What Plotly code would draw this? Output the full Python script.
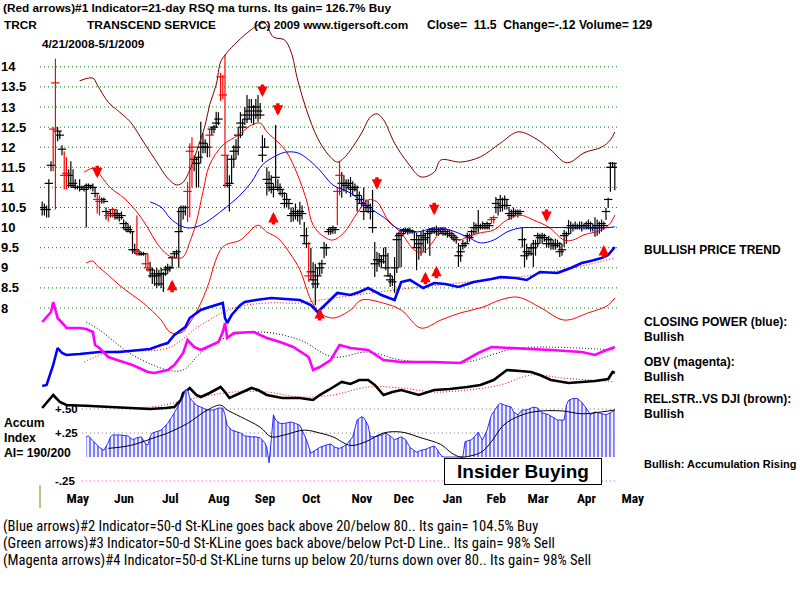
import plotly.graph_objects as go

# ---------------- data ----------------
HIGH = [10.65,10.60,10.55,11.20,11.65,12.50,14.20,12.50,12.40,12.05,
        11.90,11.75,11.45,11.65,11.45,11.20,11.05,11.20,11.05,11.05,
        11.10,11.10,11.05,11.10,11.00,10.85,10.80,10.75,10.75,10.50,
        10.40,10.45,10.50,10.45,10.45,10.35,10.40,10.20,10.15,10.10,
        10.05,9.90,9.60,10.30,9.45,9.40,9.40,9.35,9.35,9.15,
        9.00,8.95,9.00,8.95,9.00,8.90,9.05,9.10,9.05,9.30,
        9.40,9.45,10.50,10.55,10.55,10.55,11.13,12.10,12.25,11.80,
        11.75,11.90,12.63,12.35,12.20,12.10,12.43,12.50,12.55,12.88,
        12.87,13.85,13.80,14.30,11.80,11.30,11.80,12.05,12.20,12.50,
        12.87,12.70,13.00,13.30,13.20,13.20,13.05,13.20,13.30,13.10,
        12.30,12.23,11.50,11.40,11.30,11.10,12.55,11.20,11.10,10.95,
        10.88,10.85,10.70,10.50,10.50,10.60,10.45,10.64,10.55,10.14,
        10.00,9.64,9.50,9.14,9.10,9.00,9.14,9.20,9.64,9.60,
        9.99,10.00,10.05,10.00,11.00,11.63,11.38,11.30,11.20,11.20,
        11.26,11.15,11.10,11.05,10.90,10.80,11.00,10.70,10.68,10.60,
        10.94,9.64,9.40,9.37,9.30,9.50,9.52,9.37,8.87,8.80,
        9.27,9.87,9.90,9.94,9.99,10.00,9.99,10.00,9.95,9.90,
        9.87,9.80,9.90,9.95,9.87,9.95,9.99,10.00,10.01,10.05,
        10.00,10.00,9.95,10.00,9.95,9.95,9.90,9.85,9.80,9.62,
        9.55,9.69,9.65,9.87,9.85,9.95,10.14,10.10,10.44,10.10,
        10.15,10.10,10.15,10.10,10.25,10.30,10.76,10.70,10.81,10.75,
        10.80,10.70,10.51,10.45,10.50,10.45,10.45,10.45,10.01,9.74,
        9.60,9.50,9.60,9.69,9.70,9.87,9.85,9.87,9.85,9.75,
        9.80,9.75,9.70,9.72,9.70,9.64,9.60,9.94,9.90,10.19,
        10.15,10.10,10.15,10.10,10.15,10.15,10.10,10.15,10.20,10.15,
        10.10,10.26,10.20,10.15,10.20,10.15,10.49,10.74,11.63,11.63,
        11.60]
LOW = [10.30,10.30,10.25,10.25,11.40,11.40,10.45,12.15,12.20,11.80,
       10.95,10.95,11.00,11.00,11.00,10.95,10.95,10.90,10.95,10.90,
       10.00,10.95,10.95,10.90,10.75,10.35,10.30,10.60,10.60,10.20,
       10.15,10.25,10.25,10.20,10.20,10.15,10.20,9.95,9.90,9.90,
       9.85,9.35,9.35,9.30,9.30,9.30,9.30,9.00,8.90,8.75,
       8.60,8.55,8.50,8.55,8.50,8.40,8.80,8.85,8.90,9.00,
       9.25,9.25,9.00,9.90,10.20,10.30,10.14,10.26,11.00,11.40,
       11.00,11.00,11.60,11.85,11.85,11.75,11.75,12.30,12.35,12.48,
       12.55,13.15,13.20,11.00,11.00,10.40,11.10,11.48,11.70,11.80,
       12.23,12.30,12.55,12.60,12.70,12.60,12.55,12.70,12.63,12.70,
       11.63,11.98,10.80,10.90,10.85,10.75,11.00,10.90,10.80,10.75,
       10.48,10.50,10.45,10.14,10.15,10.20,10.15,10.07,10.20,9.60,
       9.49,8.65,8.70,8.50,8.07,8.50,8.82,8.85,9.24,9.30,
       9.82,9.82,9.85,9.85,10.06,10.80,10.74,10.90,10.85,10.95,
       10.76,10.80,10.90,10.40,10.60,10.50,10.19,10.40,10.36,10.20,
       9.87,8.77,8.90,9.02,9.00,9.10,8.94,8.77,8.52,8.55,
       8.37,8.87,9.00,9.02,9.82,9.85,9.82,9.85,9.85,9.50,
       8.94,9.20,9.30,9.40,9.37,9.60,9.30,9.85,9.85,9.80,
       9.80,9.85,9.80,9.80,9.75,9.77,9.70,9.65,9.60,9.02,
       9.15,9.45,9.50,9.62,9.65,9.75,9.82,9.85,9.87,9.95,
       9.95,9.95,9.95,9.95,10.10,10.10,10.36,10.30,10.39,10.40,
       10.45,10.45,10.19,10.20,10.25,10.30,10.25,10.30,9.50,9.02,
       9.20,9.30,9.30,9.02,9.30,9.52,9.60,9.60,9.65,9.50,
       9.50,9.45,9.45,9.45,9.50,9.27,9.30,9.52,9.60,9.82,
       9.85,9.90,9.95,9.95,9.95,9.90,9.95,9.95,9.95,9.90,
       9.90,9.77,9.80,9.85,9.90,9.95,10.19,10.49,10.89,11.50,
       10.93]
CLOSE = [10.50,10.45,10.45,11.10,11.55,12.45,13.60,12.40,12.30,11.95,
         11.30,11.35,11.30,11.05,11.10,11.00,11.00,11.00,11.00,10.95,
         11.00,11.05,11.00,11.00,10.85,10.70,10.65,10.70,10.65,10.40,
         10.30,10.35,10.45,10.30,10.35,10.25,10.30,10.10,10.00,9.95,
         9.90,9.45,9.45,9.40,9.35,9.35,9.35,9.10,9.00,8.95,
         8.80,8.85,8.80,8.60,8.85,8.85,8.95,9.00,9.00,9.25,
         9.35,9.40,9.90,10.40,10.50,10.50,10.90,11.90,12.00,11.70,
         11.60,11.75,12.00,12.10,12.00,12.00,12.30,12.45,12.50,12.60,
         12.70,13.75,13.30,11.80,11.05,11.10,11.70,11.90,12.00,12.30,
         12.60,12.50,12.80,12.70,12.90,13.00,12.80,13.00,12.90,12.80,
         11.80,12.00,11.20,11.10,11.00,10.95,11.25,11.00,10.95,10.85,
         10.60,10.70,10.60,10.30,10.35,10.40,10.30,10.40,10.35,9.80,
         9.60,8.80,8.90,8.70,8.60,8.80,9.00,9.10,9.50,9.50,
         9.90,9.95,10.00,9.95,10.90,11.30,11.10,11.10,11.05,11.10,
         11.00,10.95,11.00,10.80,10.70,10.60,10.40,10.55,10.50,10.40,
         10.00,9.10,9.20,9.20,9.15,9.30,9.00,8.80,8.70,8.65,
         9.00,9.70,9.80,9.85,9.92,9.95,9.90,9.92,9.90,9.70,
         9.50,9.60,9.80,9.70,9.75,9.85,9.90,9.95,9.90,9.95,
         9.90,9.95,9.85,9.90,9.85,9.85,9.80,9.75,9.70,9.30,
         9.40,9.55,9.60,9.80,9.75,9.90,10.00,10.00,10.05,10.05,
         10.05,10.00,10.10,10.05,10.20,10.25,10.60,10.50,10.70,10.55,
         10.70,10.55,10.35,10.30,10.40,10.40,10.35,10.40,9.70,9.30,
         9.40,9.35,9.50,9.50,9.60,9.80,9.75,9.80,9.75,9.60,
         9.70,9.60,9.60,9.55,9.60,9.40,9.45,9.80,9.85,10.00,
         10.05,10.00,10.05,10.00,10.05,10.05,10.05,10.05,10.10,10.00,
         10.00,10.00,10.05,10.00,10.10,10.05,10.40,10.70,11.50,11.60,
         11.50]
RED_BARS = [5, 6, 10, 11, 25, 26, 30, 32, 43, 47, 48, 66, 67, 68, 76,
            81, 82, 83, 121, 134, 135, 204, 205]

MONTH_IDX = [8, 29, 50, 72, 93, 114, 137, 156, 178, 198, 217, 239, 260]
MONTH_LBL = ["May", "Jun", "Jul", "Aug", "Sep", "Oct", "Nov", "Dec",
             "Jan", "Feb", "Mar", "Apr", "May"]
PRICE_TICKS = [8, 8.5, 9, 9.5, 10, 10.5, 11, 11.5, 12, 12.5, 13, 13.5, 14]

UPPER_IDX = [17,23,25,30,35,40,46,52,57,61,64,67,70,74,76,79,81,83,87,93,98,101,105,110,
             113,116,120,125,130,134,137,140,145,149,152,155,160,166,172,178,181,190,199,
             208,216,223,231,237,240,246,254,258,260]
UPPER_VAL = [13.65,13.72,13.55,13.12,12.88,12.63,12.13,11.63,11.23,11.06,11.13,11.43,11.88,
             12.55,13.05,13.55,14.12,14.29,14.54,14.84,15.04,15.09,14.74,14.67,14.37,13.67,
             12.93,12.23,11.81,11.63,11.73,11.93,12.35,12.75,12.83,12.68,12.10,11.61,11.26,
             11.38,11.68,11.63,11.76,12.10,12.38,12.25,11.93,11.63,11.63,11.86,12.00,12.18,12.38]
MA21_IDX = [19,24,27,31,37,43,48,52,57,61,64,67,70,73,76,82,89,95,99,102,107,111,116,120,
            123,128,132,137,143,148,152,157,163,169,173,178,182,189,193,199,205,211,217,
            223,230,237,241,246,254,258,260]
MA21_VAL = [11.38,11.48,11.26,10.99,10.74,10.39,9.99,9.62,9.32,9.24,9.27,9.64,10.14,10.89,
            11.56,12.05,12.30,12.55,12.60,12.38,12.13,11.88,11.31,10.69,10.06,9.77,9.69,9.87,
            10.36,10.69,10.64,10.19,9.87,9.44,9.39,9.69,10.01,9.69,9.77,9.87,9.94,10.19,
            10.31,10.19,10.01,9.69,9.69,9.82,9.94,10.11,10.31]
LOWER_IDX = [20,23,25,30,35,41,46,54,58,63,67,72,75,82,90,98,102,107,113,117,122,126,132,
             140,145,155,163,172,181,190,200,208,216,226,237,248,257,260]
LOWER_VAL = [9.12,9.17,9.05,8.82,8.57,8.32,8.12,7.70,7.40,7.38,7.63,8.12,8.52,9.52,9.69,
             10.06,9.89,9.74,9.32,8.95,8.20,7.88,7.75,7.95,8.20,8.12,7.95,7.50,7.70,7.88,
             8.02,8.20,8.27,8.02,7.70,7.88,8.07,8.25]
MA50_IDX = [49,54,58,63,67,72,76,82,89,95,100,107,111,116,120,126,132,140,148,155,161,170,
            178,185,193,199,205,211,217,226,239,248,257,260]
MA50_VAL = [10.64,10.51,10.24,10.04,9.99,10.06,10.19,10.44,10.76,11.13,11.56,11.81,11.88,
            11.86,11.73,11.43,11.06,10.86,10.51,10.26,9.99,9.89,9.99,9.94,9.77,9.62,9.69,
            9.89,9.99,10.00,10.00,9.99,10.00,10.02]

CP_IDX = [0,2,5,7,9,11,17,26,35,45,49,54,57,60,63,65,67,72,76,80,82,83,84,86,90,92,97,
          104,113,117,122,125,127,130,134,140,144,148,154,160,163,167,173,178,183,189,196,
          204,208,215,220,226,234,240,245,249,254,257,260]
CP_VAL = [14,15,35,52,47,45,46,48,48,50,51,55,57,65,70,73,82,90,93,96,97,82,77,85,95,98,
          100,102,101,100,95,88,92,98,107,105,108,112,105,100,118,120,112,117,116,113,118,
          121,123,122,120,128,127,132,137,139,142,145,153]
CPMA_IDX = [19,31,57,72,87,102,117,126,160,193,223,247,260]
CPMA_VAL = [38,48,52,75,92,97,97,100,110,118,125,135,142]

OBV_IDX = [0,4,5,7,10,11,17,20,23,24,26,30,34,41,48,51,57,60,64,66,69,72,75,80,82,83,84,
           87,96,102,108,114,121,123,126,131,135,140,148,155,163,177,190,198,204,216,231,
           245,251,254,260]
OBV_VAL = [58,68,78,62,55,52,52,51,48,35,32,23,20,15,8,7,10,15,27,40,33,30,33,38,48,57,42,
           47,48,42,38,33,23,10,13,20,35,32,30,20,18,18,17,27,33,32,30,28,25,28,33]
OBVMA_IDX = [20,26,41,57,64,72,84,99,117,132,148,163,193,204,216,260]
OBVMA_VAL = [58,50,25,10,10,27,43,48,40,23,28,20,18,25,32,30]

RS_IDX = [0,2,5,8,11,22,31,41,49,56,60,63,64,66,67,70,72,76,81,83,85,90,95,98,102,109,117,
          123,126,130,136,140,144,148,151,155,159,163,171,178,185,193,199,205,208,211,217,
          222,226,231,239,245,251,257,259,260]
RS_VAL = [12,17,25,18,15,14,13,12,11,12,13,20,27,30,32,25,23,27,33,28,22,27,32,30,25,22,22,
          20,25,30,38,36,40,40,35,25,28,30,25,30,31,33,35,40,45,50,49,48,45,40,37,38,39,41,
          48,47]
RSMA_IDX = [20,49,72,87,102,117,132,148,163,178,193,208,222,236,249,260]
RSMA_VAL = [15,13,23,28,28,23,25,33,32,28,30,35,45,42,40,38]

AI_IDX = [20,21,23,25,26,28,30,31,32,35,39,40,41,43,45,47,48,49,50,54,57,60,62,64,65,66,67,
          69,70,72,75,78,80,82,83,84,86,90,92,95,97,99,101,102,103,104,105,106,108,110,113,
          115,117,120,122,124,126,129,131,133,135,138,140,141,143,145,146,148,149,151,154,
          156,158,160,163,165,167,170,172,174,176,178,179,181,182,185,191,192,195,197,198,
          199,200,202,204,205,207,208,210,213,214,216,218,220,223,225,227,230,232,234,237,
          238,239,241,243,245,247,249,251,254,256,258,260]
AI_VAL = [0.21,0.22,0.17,0.125,0.10,0.07,0.15,0.21,0.23,0.23,0.22,0.20,0.18,0.20,0.21,0.135,
          0.125,0.21,0.25,0.28,0.35,0.46,0.54,0.625,0.70,0.70,0.615,0.56,0.54,0.52,0.49,0.49,
          0.51,0.51,0.44,0.33,0.28,0.25,0.22,0.21,0.21,0.20,0.15,0.10,-0.06,0.18,0.44,0.385,
          0.35,0.35,0.365,0.35,0.33,0.18,0.04,0.07,0.10,0.125,0.135,0.10,0.09,0.125,0.18,
          0.21,0.385,0.42,0.41,0.33,0.21,0.21,0.23,0.25,0.22,0.18,0.21,0.18,0.10,0.05,0.07,
          0.08,0.10,0.115,0.09,0.02,0.0,0.0,0.0,0.16,0.18,0.23,0.26,0.21,0.18,0.28,0.44,0.47,
          0.54,0.56,0.54,0.52,0.47,0.44,0.49,0.49,0.52,0.51,0.46,0.44,0.41,0.385,0.385,0.54,
          0.59,0.61,0.61,0.57,0.51,0.44,0.47,0.45,0.44,0.46,0.49]
AIMA_IDX = [30,40,52,57,66,75,81,84,90,99,104,110,119,126,132,140,147,155,163,172,181,186,
            190,196,200,204,209,214,223,236,245,254,260]
AIMA_VAL = [0.09,0.12,0.21,0.25,0.35,0.49,0.54,0.49,0.42,0.31,0.21,0.23,0.28,0.25,0.21,0.12,
            0.16,0.25,0.26,0.20,0.13,0.04,0.0,0.02,0.06,0.16,0.32,0.40,0.47,0.48,0.45,0.47,0.49]
AI_TICKS = [0.5, 0.25, -0.25]
AI_TICK_TEXT = ["+.50", "+.25", "-.25"]

DOWN_IDX = [25, 100, 107, 152, 178, 229]
DOWN_TIP = [11.23, 13.25, 12.78, 10.94, 10.31, 10.14]
UP_IDX = [59, 105, 126, 174, 179, 255]
UP_TIP = [8.70, 10.39, 8.00, 8.90, 9.05, 9.57]

# ---------------- figure ----------------
SANS = "Liberation Sans, Arial, sans-serif"
NARROW = "Liberation Sans Narrow, Arial Narrow, Roboto Condensed, Liberation Sans, sans-serif"
BOLD = dict(family=SANS, color="black", weight="bold")

fig = go.Figure()


def bar_lines(idxs):
    xs, ys = [], []
    for i in idxs:
        xs += [i, i, None]
        ys += [LOW[i], HIGH[i], None]
    return xs, ys


black_idx = [i for i in range(len(CLOSE)) if i not in RED_BARS]
for idxs, col in ((black_idx, "black"), (RED_BARS, "#ff0000")):
    xs, ys = bar_lines(idxs)
    fig.add_trace(go.Scatter(x=xs, y=ys, mode="lines", line=dict(color=col, width=1.2),
                             yaxis="y", hoverinfo="skip"))
    fig.add_trace(go.Scatter(x=idxs, y=[CLOSE[i] for i in idxs], mode="markers",
                             marker=dict(symbol="line-ew", size=6,
                                         line=dict(color=col, width=1.2)),
                             yaxis="y", hoverinfo="skip"))

# bands and moving averages
fig.add_trace(go.Scatter(x=UPPER_IDX, y=UPPER_VAL, mode="lines",
                         line=dict(color="#800000", width=1, shape="spline"), yaxis="y"))
fig.add_trace(go.Scatter(x=MA21_IDX, y=MA21_VAL, mode="lines",
                         line=dict(color="#ff0000", width=1, shape="spline"), yaxis="y"))
fig.add_trace(go.Scatter(x=LOWER_IDX, y=LOWER_VAL, mode="lines",
                         line=dict(color="#ff0000", width=1, shape="spline"), yaxis="y"))
fig.add_trace(go.Scatter(x=MA50_IDX, y=MA50_VAL, mode="lines",
                         line=dict(color="#0000ff", width=1, shape="spline"), yaxis="y"))

DOTS = "1px,2px"
# closing power
fig.add_trace(go.Scatter(x=CPMA_IDX, y=CPMA_VAL, mode="lines",
                         line=dict(color="#ff0000", width=1, dash=DOTS, shape="spline"),
                         yaxis="y2"))
fig.add_trace(go.Scatter(x=CP_IDX, y=CP_VAL, mode="lines",
                         line=dict(color="#0000ff", width=2.6), yaxis="y2"))
# OBV
fig.add_trace(go.Scatter(x=OBVMA_IDX, y=OBVMA_VAL, mode="lines",
                         line=dict(color="black", width=1, dash=DOTS, shape="spline"),
                         yaxis="y3"))
fig.add_trace(go.Scatter(x=OBV_IDX, y=OBV_VAL, mode="lines",
                         line=dict(color="#ff00ff", width=2.6), yaxis="y3"))
# relative strength
fig.add_trace(go.Scatter(x=RSMA_IDX, y=RSMA_VAL, mode="lines",
                         line=dict(color="#ff0000", width=1, dash=DOTS, shape="spline"),
                         yaxis="y4"))
fig.add_trace(go.Scatter(x=RS_IDX, y=RS_VAL, mode="lines",
                         line=dict(color="black", width=2.6), yaxis="y4"))
# accumulation index
fig.add_trace(go.Scatter(x=AI_IDX, y=AI_VAL, mode="lines", fill="tozeroy",
                         line=dict(color="#0000ff", width=0.8),
                         fillcolor="white",
                         fillpattern=dict(shape="|", fgcolor="#0000ff", bgcolor="white",
                                          size=4, solidity=0.55),
                         yaxis="y5"))
fig.add_trace(go.Scatter(x=AIMA_IDX, y=AIMA_VAL, mode="lines",
                         line=dict(color="black", width=1, shape="spline"), yaxis="y5"))

shapes = []
for p in PRICE_TICKS:
    shapes.append(dict(type="line", xref="x", yref="y", x0=-1, x1=261, y0=p, y1=p,
                       line=dict(color="#008000", width=1, dash="1px,3px"), layer="below"))
for v, col in zip(AI_TICKS, ["#707070", "#707070", "#d040d0"]):
    shapes.append(dict(type="line", xref="x", yref="y5", x0=18, x1=261, y0=v, y1=v,
                       line=dict(color=col, width=1, dash="1px,3px"), layer="below"))
shapes.append(dict(type="line", xref="paper", yref="paper", x0=40 / 800, x1=40 / 800,
                   y0=1 - 485 / 600, y1=1 - 508 / 600, line=dict(color="#808000", width=1)))

ann = []
for i, p in zip(DOWN_IDX, DOWN_TIP):
    ann.append(dict(x=i, y=p, xref="x", yref="y", text="", showarrow=True, arrowhead=2,
                    arrowsize=0.6, arrowwidth=3.5, arrowcolor="#ff0000", ax=0, ay=-14))
for i, p in zip(UP_IDX, UP_TIP):
    ann.append(dict(x=i, y=p, xref="x", yref="y", text="", showarrow=True, arrowhead=2,
                    arrowsize=0.6, arrowwidth=3.5, arrowcolor="#ff0000", ax=0, ay=14))


def txt(s, x, y, size=12, bold=True):
    f = dict(BOLD) if bold else dict(family=NARROW, color="black")
    f["size"] = size
    ann.append(dict(text=s, x=x / 800, y=1 - y / 600, xref="paper", yref="paper",
                    xanchor="left", yanchor="middle", showarrow=False, font=f))


txt("(Red arrows)#1 Indicator=21-day RSQ ma turns. Its gain= 126.7% Buy", 1, 8, 11.8)
txt("TRCR", 2, 25, 11.8)
txt("TRANSCEND SERVICE", 85, 25, 11.8)
txt("(C) 2009 www.tigersoft.com", 252, 25, 11.8)
txt("Close=\u00a0 11.5\u00a0 Change=-.12 Volume= 129", 425, 25, 12.1)
txt("4/21/2008-5/1/2009", 40, 44, 11.8)
txt("BULLISH PRICE TREND", 642, 250, 12)
txt("CLOSING POWER (blue):", 642, 322, 12)
txt("Bullish", 642, 337, 12)
txt("OBV (magenta):", 642, 362, 12)
txt("Bullish", 642, 377, 12)
txt("REL.STR..VS DJI (brown):", 642, 399, 12)
txt("Bullish", 642, 414, 12)
txt("Bullish: Accumulation Rising", 642, 464, 11)
txt("Accum", 2, 423, 12.2)
txt("Index", 2, 438, 12.2)
txt("AI= 190/200", 2, 453, 12.2)
txt("(Blue arrows)#2 Indicator=50-d St-KLine goes back above 20/below 80.. Its gain= 104.5% Buy",
    1, 526, 14.6, bold=False)
txt("(Green arrows)#3 Indicator=50-d St-KLine goes back above/below Pct-D Line.. Its gain= 98% Sell",
    1, 543, 14.6, bold=False)
txt("(Magenta arrows)#4 Indicator=50-d St-KLine turns up below 20/turns down over 80.. Its gain= 98% Sell",
    1, 560, 14.6, bold=False)
ann.append(dict(text="Insider Buying", x=523 / 800, y=1 - 471 / 600, xref="paper",
                yref="paper", showarrow=False, xanchor="center", yanchor="middle",
                font=dict(family=SANS, size=19, color="black", weight="bold"),
                bgcolor="white", bordercolor="black", borderwidth=1, borderpad=1,
                width=154, height=23))

fig.update_layout(
    width=800, height=600, autosize=False, margin=dict(l=0, r=0, t=0, b=0, pad=0),
    paper_bgcolor="white", plot_bgcolor="white", showlegend=False,
    xaxis=dict(domain=[40 / 800, 617 / 800], range=[-1, 261], anchor="free",
               position=112 / 600, tickmode="array", tickvals=MONTH_IDX, ticktext=MONTH_LBL,
               ticks="", showgrid=False, zeroline=False, showline=False, ticklabelshift=18,
               automargin=False,
               tickfont=dict(family=NARROW, size=13.5, color="black", weight="bold")),
    yaxis=dict(domain=[0, 1], range=[0.7363, 15.6617], anchor="free", position=0,
               side="right", tickmode="array", tickvals=PRICE_TICKS, automargin=False,
               ticktext=[f"{v:g}" for v in PRICE_TICKS], ticks="", showgrid=False,
               zeroline=False, showline=False,
               tickfont=dict(family=SANS, size=13, color="black", weight="bold")),
    yaxis2=dict(overlaying="y", range=[-200, 400], visible=False),
    yaxis3=dict(overlaying="y", range=[-220, 380], visible=False),
    yaxis4=dict(overlaying="y", range=[-180, 420], visible=False),
    yaxis5=dict(overlaying="y", range=[-1.4896, 4.7604], anchor="free", position=54 / 800,
                side="right", tickmode="array", tickvals=AI_TICKS, ticktext=AI_TICK_TEXT,
                ticks="", showgrid=False, zeroline=False, showline=False, automargin=False,
                tickfont=dict(family=SANS, size=11.5, color="black", weight="bold")),
    shapes=shapes, annotations=ann,
)

fig.write_html("out.html", config={"responsive": False})
